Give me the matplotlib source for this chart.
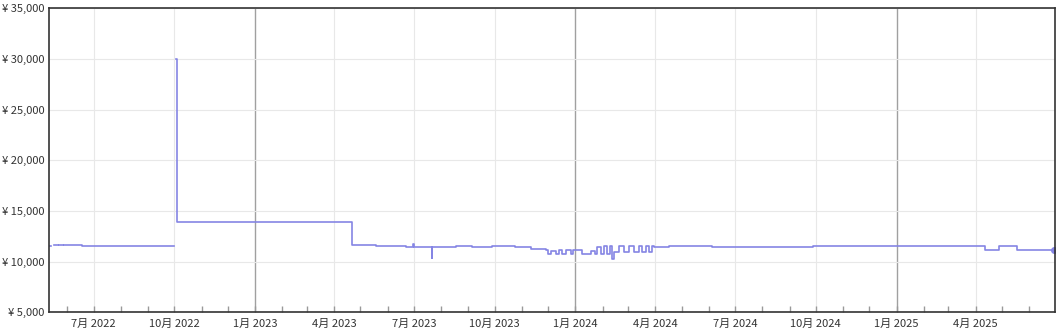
import numpy as np
import pandas as pd
import matplotlib
matplotlib.use("Agg")
import matplotlib.pyplot as plt
import matplotlib.dates as mdates
from matplotlib.ticker import FuncFormatter, FixedLocator

plt.rcParams["font.family"] = ["Noto Sans CJK JP", "DejaVu Sans"]

nan = np.nan

# price change points (step data, value holds until next date)
dates = [
    "2022-05-11", "2022-05-13", "2022-05-17", "2022-05-21", "2022-05-22",
    "2022-05-27", "2022-05-28", "2022-06-18", "2022-10-01", "2022-10-03",
    "2022-10-04", "2023-04-21", "2023-05-12", "2023-05-19", "2023-06-22",
    "2023-06-30", "2023-07-01", "2023-07-21", "2023-07-22", "2023-08-18",
    "2023-09-05", "2023-09-28", "2023-10-24", "2023-11-11", "2023-11-28",
    "2023-12-01", "2023-12-04", "2023-12-10", "2023-12-13", "2023-12-17",
    "2023-12-21", "2023-12-27", "2023-12-29", "2024-01-09", "2024-01-19",
    "2024-01-23", "2024-01-26", "2024-01-30", "2024-02-02", "2024-02-06",
    "2024-02-09", "2024-02-12", "2024-02-14", "2024-02-20", "2024-02-25",
    "2024-03-02", "2024-03-08", "2024-03-13", "2024-03-17", "2024-03-21",
    "2024-03-25", "2024-03-28", "2024-03-31", "2024-04-17", "2024-06-05",
    "2024-09-28", "2025-04-12", "2025-04-28", "2025-05-18", "2025-06-29",
]
prices = [
    11580, nan, 11660, nan, 11660,
    nan, 11660, 11550, nan, 30000,
    13880, 11610, 11640, 11540, 11420,
    11780, 11420, 10400, 11420, 11580,
    11450, 11580, 11450, 11280, 11180,
    10790, 11050, 10790, 11180, 10790,
    11180, 10790, 11180, 10720, 11050,
    10720, 11450, 10720, 11550, 10720,
    11550, 10230, 10950, 11550, 10950,
    11550, 10950, 11550, 10950, 11550,
    10950, 11550, 11450, 11550, 11450,
    11580, 11190, 11510, 11190, 11190,
]

s = pd.Series(prices, index=pd.to_datetime(dates))

fig = plt.figure(figsize=(10.58, 3.29), dpi=100)
ax = fig.add_axes([0.0463, 0.0508, 0.9504, 0.924])

ax.plot(s.index, s.values, drawstyle="steps-post", color="#8585e4", lw=1.2)
ax.plot(s.index[-1:], s.values[-1:], "o", color="#8585e4", ms=4)

ax.set_xlim(pd.Timestamp("2022-05-11"), pd.Timestamp("2025-06-30"))
ax.set_ylim(5000, 35000)

# y axis
ax.set_yticks(range(5000, 35001, 5000))
ax.yaxis.set_major_formatter(FuncFormatter(lambda v, p: "¥ {:,.0f}".format(v)))
ax.tick_params(axis="y", length=0, pad=3, labelsize=8, labelcolor="#333333")
ax.grid(axis="y", color="#e8e8e8", lw=0.8)

# x axis: quarterly labels, monthly minor ticks
quarters = pd.date_range("2022-07-01", "2025-04-01", freq="QS")
ax.xaxis.set_major_locator(FixedLocator(mdates.date2num(quarters)))
ax.xaxis.set_major_formatter(FuncFormatter(
    lambda v, p: "{}月 {}".format(mdates.num2date(v).month, mdates.num2date(v).year)))
ax.xaxis.set_minor_locator(mdates.MonthLocator())
ax.tick_params(axis="x", which="both", direction="in", length=4, width=1,
               color="#999999", pad=5, labelsize=8, labelcolor="#333333")
for q in quarters:
    if q.month == 1:
        ax.axvline(q, color="#a0a0a0", lw=1, zorder=0)
    else:
        ax.axvline(q, color="#e8e8e8", lw=0.8, zorder=0)

for sp in ax.spines.values():
    sp.set_color("#333333")
    sp.set_linewidth(1.2)
ax.set_axisbelow(True)

fig.savefig("out.png", dpi=100)
